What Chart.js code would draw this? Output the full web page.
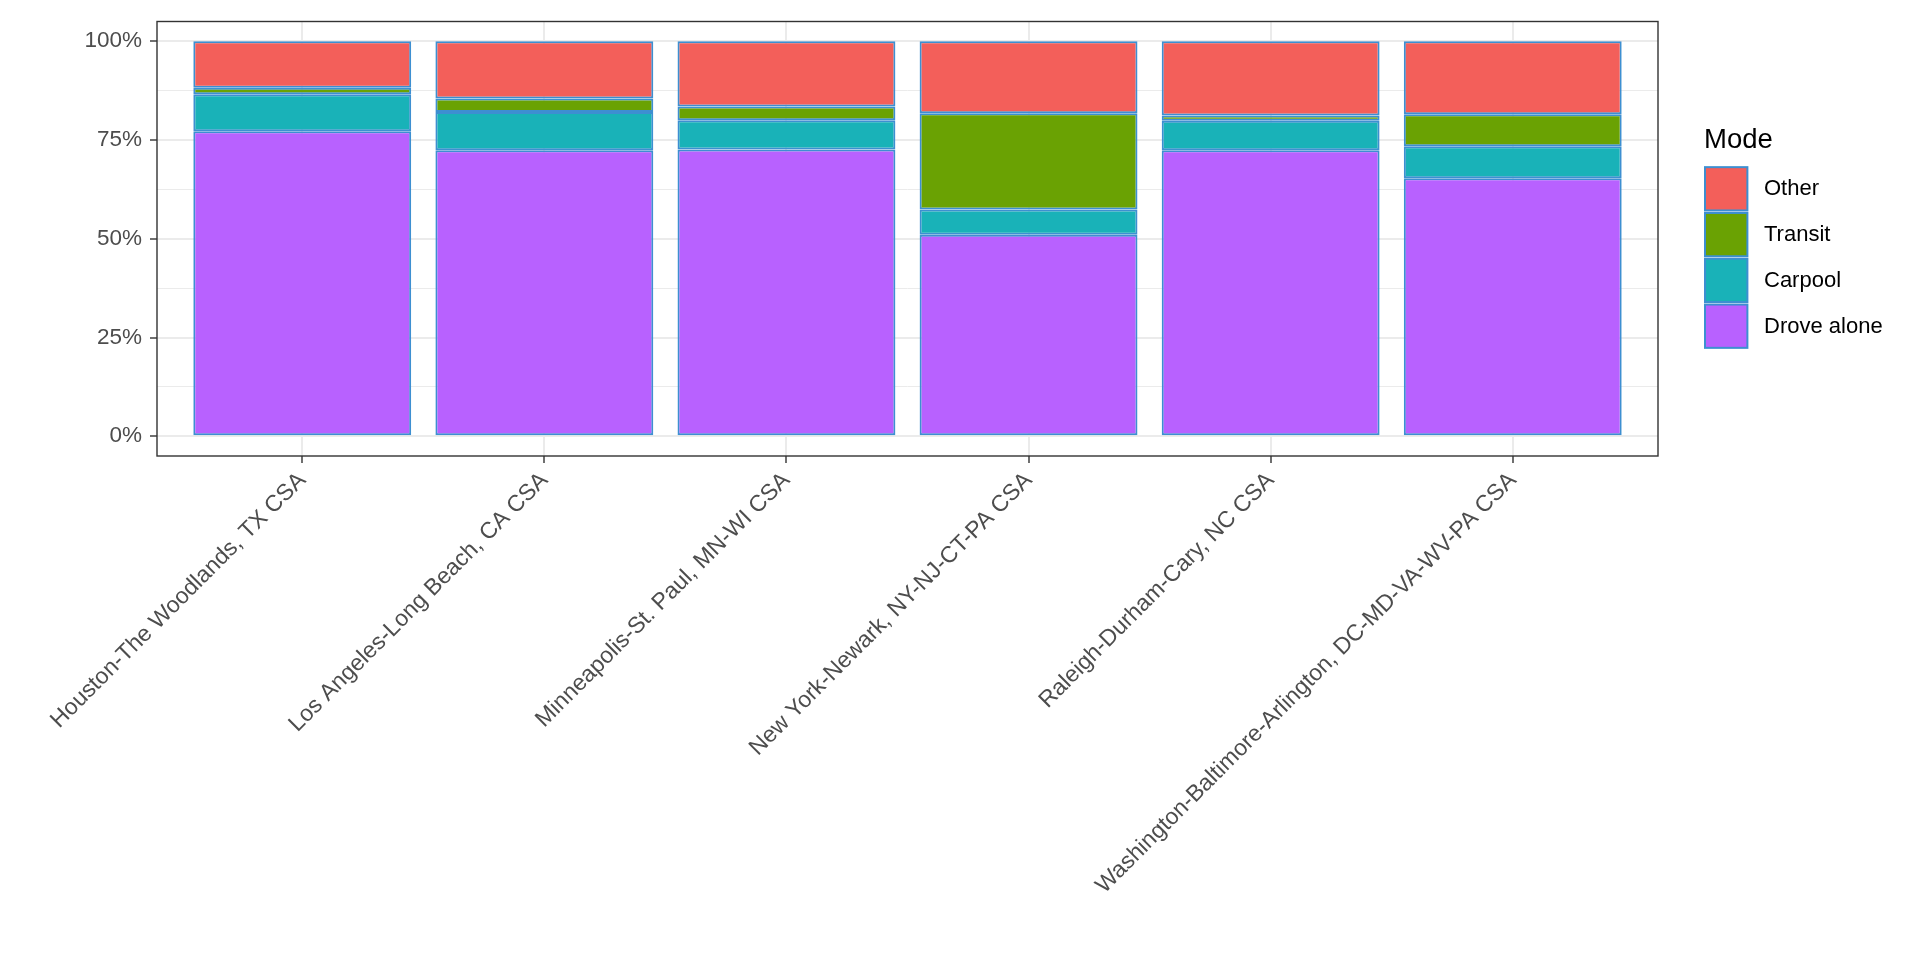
<!DOCTYPE html>
<html>
<head>
<meta charset="utf-8">
<script src="https://cdn.jsdelivr.net/npm/chart.js@4.4.1/dist/chart.umd.min.js"></script>
<style>
  html, body { margin: 0; padding: 0; background: #ffffff; }
  #wrap { width: 1920px; height: 960px; position: relative; }
</style>
</head>
<body>
<div id="wrap"><canvas id="modeChart" width="1920" height="960"></canvas></div>
<script>
// categories (CSA) and commute mode shares, in percent
const regions = [
    'Houston-The Woodlands, TX CSA',
    'Los Angeles-Long Beach, CA CSA',
    'Minneapolis-St. Paul, MN-WI CSA',
    'New York-Newark, NY-NJ-CT-PA CSA',
    'Raleigh-Durham-Cary, NC CSA',
    'Washington-Baltimore-Arlington, DC-MD-VA-WV-PA CSA'
];
const droveAlone = [77.2, 72.4, 72.6, 51.0, 72.4, 65.3];
const carpool    = [9.4, 9.7, 7.4, 6.4, 7.5, 8.1];
const transit    = [1.6, 3.4, 3.5, 24.4, 1.3, 8.1];
const other      = [11.8, 14.5, 16.5, 18.2, 18.8, 18.5];
const yTicks = [0, 25, 50, 75, 100];

const outline = '#3D8FD1';
const textGrey = '#4D4D4D';
const font = 'Liberation Sans, Arial, Helvetica, sans-serif';

function toPoints(values) {
    return values.map((v, i) => ({ x: i, y: v }));
}

// series listed bottom to top; legend shows them top to bottom
const series = [
    { label: 'Drove alone', data: droveAlone, color: '#B861FF' },
    { label: 'Carpool', data: carpool, color: '#19B2B8' },
    { label: 'Transit', data: transit, color: '#6AA203' },
    { label: 'Other', data: other, color: '#F35F5A' }
];

// panel border, like theme_bw
const panelBorder = {
    id: 'panelBorder',
    afterDraw(chart) {
        const { ctx, chartArea: a } = chart;
        ctx.save();
        ctx.strokeStyle = '#333333';
        ctx.lineWidth = 1.4;
        ctx.strokeRect(a.left, a.top, a.right - a.left, a.bottom - a.top);
        ctx.restore();
    }
};

// ggplot-style legend to the right of the panel
const sideLegend = {
    id: 'sideLegend',
    afterDraw(chart) {
        const { ctx, chartArea: a } = chart;
        const keyH = 45.8, keyW = 44.4, titleBlock = 44;
        const items = chart.data.datasets.slice().reverse();
        const total = titleBlock + keyH * items.length;
        const top = (a.top + a.bottom) / 2 - total / 2 - 3;
        const x = a.right + 46;
        ctx.save();
        ctx.fillStyle = '#000000';
        ctx.font = '27.5px ' + font;
        ctx.textBaseline = 'alphabetic';
        ctx.fillText('Mode', x, top + 26);
        ctx.font = '22px ' + font;
        ctx.textBaseline = 'middle';
        items.forEach((ds, i) => {
            const y = top + titleBlock + i * keyH;
            ctx.fillStyle = ds.backgroundColor;
            ctx.fillRect(x + 1, y + 1, keyW - 2, keyH - 2.5);
            ctx.strokeStyle = outline;
            ctx.lineWidth = 2;
            ctx.strokeRect(x + 1, y + 1, keyW - 2, keyH - 2.5);
            ctx.fillStyle = '#000000';
            ctx.fillText(ds.label, x + 60, y + keyH / 2);
        });
        ctx.restore();
    }
};

const ctx = document.getElementById('modeChart').getContext('2d');
new Chart(ctx, {
    type: 'bar',
    data: {
        datasets: series.map(s => ({
            label: s.label,
            data: toPoints(s.data),
            backgroundColor: s.color,
            borderColor: outline,
            borderWidth: 2,
            borderSkipped: false,
            barPercentage: 0.9,
            categoryPercentage: 1.0
        }))
    },
    options: {
        responsive: false,
        animation: false,
        devicePixelRatio: 1,
        layout: { padding: { top: 15, right: 262, left: 0, bottom: 0 } },
        plugins: {
            legend: { display: false },
            tooltip: { enabled: false }
        },
        scales: {
            x: {
                type: 'linear',
                stacked: true,
                offset: false,
                min: -0.6,
                max: 5.6,
                afterBuildTicks: scale => {
                    scale.ticks = regions.map((_, i) => ({ value: i }));
                },
                afterFit: scale => { scale.height = 504; },
                border: { display: false },
                grid: {
                    offset: false,
                    color: '#EBEBEB',
                    lineWidth: 2,
                    tickColor: '#333333',
                    tickWidth: 1.4,
                    tickLength: 7
                },
                ticks: {
                    autoSkip: false,
                    minRotation: 45,
                    maxRotation: 45,
                    padding: 4,
                    color: textGrey,
                    font: { family: font, size: 23 },
                    callback: value => regions[value]
                }
            },
            y: {
                stacked: true,
                min: -5,
                max: 105,
                afterBuildTicks: scale => {
                    scale.ticks = scale.ticks.filter(t => t.value >= 0 && t.value <= 100);
                },
                afterFit: scale => { scale.width = 157; },
                border: { display: false },
                grid: {
                    color: '#EBEBEB',
                    lineWidth: c => (yTicks.includes(c.tick.value) ? 2 : 1),
                    tickColor: c => (yTicks.includes(c.tick.value) ? '#333333' : 'rgba(0,0,0,0)'),
                    tickWidth: 1.4,
                    tickLength: 7
                },
                ticks: {
                    stepSize: 12.5,
                    includeBounds: false,
                    padding: 8,
                    color: textGrey,
                    font: { family: font, size: 22.5 },
                    callback: value => (yTicks.includes(value) ? value + '%' : '')
                }
            }
        }
    },
    plugins: [panelBorder, sideLegend]
});
</script>
</body>
</html>
